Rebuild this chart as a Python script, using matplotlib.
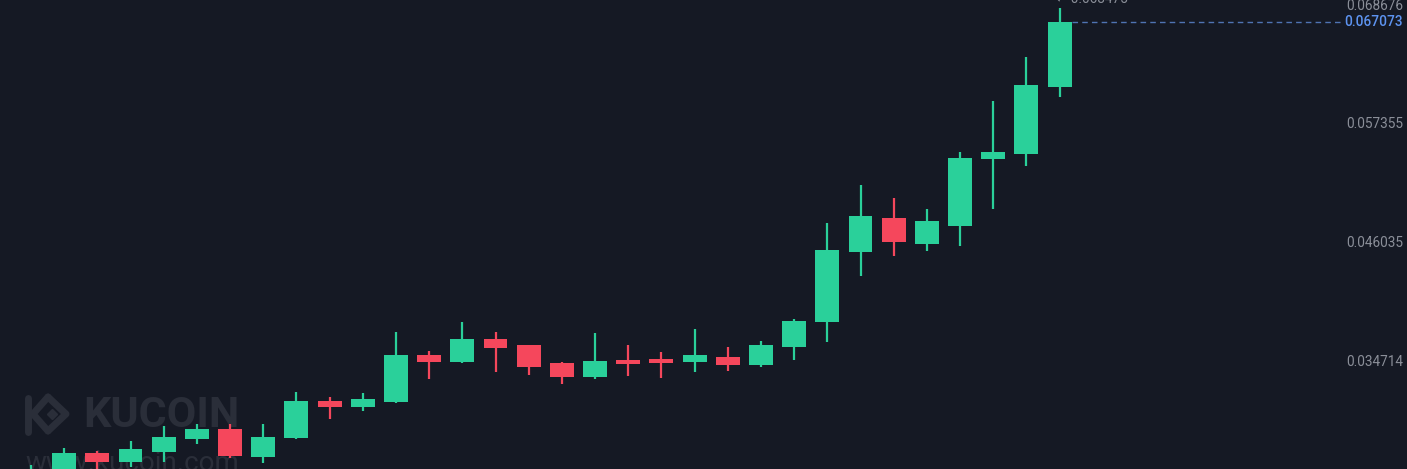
import matplotlib.pyplot as plt
import numpy as np

# candle data
opens = [0.023432, 0.023909, 0.026035, 0.025177, 0.026131, 0.027313, 0.028324, 0.025654,
         0.027409, 0.030966, 0.030422, 0.030899, 0.035353, 0.034714, 0.036879, 0.036307,
         0.034561, 0.033226, 0.034905, 0.034972, 0.034714, 0.035134, 0.034399, 0.036145,
         0.038472, 0.045205, 0.048390, 0.045939, 0.047684, 0.054017, 0.054522, 0.060941]
highs = [0.024862, 0.026512, 0.026197, 0.027151, 0.028582, 0.028744, 0.028801, 0.028744,
         0.031824, 0.031376, 0.031700, 0.037518, 0.035763, 0.038472, 0.037518, 0.036307,
         0.034714, 0.037423, 0.036307, 0.035668, 0.037804, 0.036087, 0.036688, 0.038786,
         0.047913, 0.051566, 0.050355, 0.049277, 0.054742, 0.059577, 0.063802, 0.068475]
lows = [0.022478, 0.022955, 0.024195, 0.024643, 0.025177, 0.026865, 0.025530, 0.025024,
        0.027313, 0.029249, 0.030012, 0.030823, 0.033064, 0.034619, 0.033760, 0.033446,
        0.032559, 0.033093, 0.033379, 0.033131, 0.033703, 0.033856, 0.034237, 0.034876,
        0.036621, 0.042916, 0.044823, 0.045300, 0.045777, 0.049277, 0.053407, 0.059930]
closes = [0.024195, 0.026035, 0.025177, 0.026360, 0.027561, 0.028267, 0.025721, 0.027561,
          0.030966, 0.030422, 0.031128, 0.035353, 0.034714, 0.036879, 0.035992, 0.034237,
          0.033226, 0.034809, 0.034523, 0.034619, 0.035324, 0.034399, 0.036278, 0.038624,
          0.045367, 0.048609, 0.046101, 0.048161, 0.054112, 0.054684, 0.061103, 0.067073]

price_ticks = [0.034714, 0.046035, 0.057355, 0.068676]
last_price = 0.067073

bg = '#151924'
up = '#2ad09a'
down = '#f5475c'
fam = ['Roboto', 'DejaVu Sans']

fig = plt.figure(figsize=(14.07, 4.69), dpi=100, facecolor=bg)
ax = fig.add_axes([0, 0, 1, 1])
ax.set_facecolor(bg)

x = np.arange(len(opens))
o = np.array(opens); c = np.array(closes)
h = np.array(highs); l = np.array(lows)
cols = [up if cc >= oo else down for oo, cc in zip(o, c)]

ax.vlines(x, l, h, colors=cols, linewidth=1.6, zorder=3)
ax.bar(x, np.abs(c - o), bottom=np.minimum(o, c), width=0.72, color=cols, zorder=4)

ax.set_xlim(-0.934, 41.47)
ax.set_ylim(0.024481, 0.069209)
for s in ax.spines.values():
    s.set_visible(False)
ax.set_xticks([])
ax.set_yticks([])

# price labels on the right
for p in price_ticks:
    ax.text(0.997, p, '%.6f' % p, transform=ax.get_yaxis_transform(), ha='right', va='center',
            fontsize=9.8, color='#8b8f99', family=fam)

# last price line
ax.axhline(last_price, xmin=1072 / 1407, xmax=1342 / 1407, color='#4f74b3', lw=1, ls=(0, (4, 3)), zorder=2)
ax.text(0.997, last_price, '%.6f' % last_price, transform=ax.get_yaxis_transform(), ha='right', va='center',
        fontsize=9.8, color='#5d93f0', family=fam, fontweight='medium')

# high marker label (mostly cut off at the top, as in the original)
ax.text(31 - 0.1, 0.069209 + 0.00006, '\u2190 0.068475', ha='left', va='center', fontsize=9.8,
        color='#8b8f99', family=fam, clip_on=False)

# watermark
wm = '#2a2e39'
t = ax.transAxes
def px(xp, yp):
    return xp / 1407, 1 - yp / 469
lw = 5
for seg in [[(28, 398), (28, 432)],
            [(48, 397), (33, 414), (48, 431)],
            [(48, 397), (66, 414), (48, 431)]]:
    xs, ys = zip(*[px(a, b) for a, b in seg])
    ax.plot(xs, ys, color=wm, lw=lw, transform=t, zorder=1, solid_capstyle='round', solid_joinstyle='round')
dx, dy = px(52, 414)
ax.plot([dx], [dy], marker='D', ms=5, color=wm, transform=t, zorder=1)
ax.text(83 / 1407, 1 - 415 / 469, 'KUCOIN', transform=t, fontsize=31, fontweight='bold',
        family=fam, color=wm, ha='left', va='center', zorder=1)
ax.text(25 / 1407, 1 - 463 / 469, 'www.kucoin.com', transform=t, fontsize=20,
        family=fam, color=wm, ha='left', va='center', zorder=1)

fig.savefig('out.png', dpi=100, facecolor=bg)
